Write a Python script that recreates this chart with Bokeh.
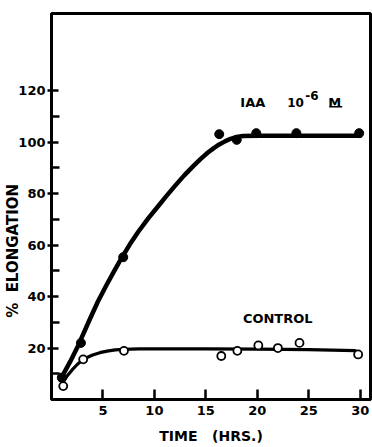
from bokeh.plotting import figure
from bokeh.models import FixedTicker, Label, Range1d
from bokeh.embed import file_html
from bokeh.resources import INLINE

# Data
iaa_t = [1.0, 2.86, 6.97, 16.3, 18.0, 19.9, 23.8, 29.9]
iaa_v = [8.5, 22.0, 55.3, 103.1, 100.9, 103.5, 103.5, 103.5]
ctl_t = [1.14, 3.08, 7.04, 16.5, 18.06, 20.1, 22.0, 24.1, 29.8]
ctl_v = [5.2, 15.6, 18.9, 16.9, 18.9, 21.0, 20.0, 22.0, 17.5]

# Smooth fitted curves (as drawn)
iaa_fit_t = [0.85, 1.8, 2.6, 3.7, 4.5, 5.36, 6.1, 6.8, 7.6, 8.4, 9.4, 10.4, 11.2,
             12.0, 12.9, 13.8, 14.5, 15.2, 15.8, 16.3, 16.9, 17.4, 18.0, 18.6,
             20.0, 25.0, 30.0]
iaa_fit_v = [7.6, 14.6, 21.0, 31.0, 38.0, 44.6, 50.0, 54.9, 60.2, 65.0, 70.4,
             75.3, 79.2, 83.0, 87.1, 90.8, 93.5, 96.0, 97.8, 99.1, 100.4, 101.3,
             102.0, 102.4, 102.5, 102.5, 102.5]
ctl_fit_t = [1.14, 1.5, 2.0, 2.5, 2.9, 3.5, 4.0, 4.7, 5.4, 6.2, 7.0, 8.5, 10.0,
             15.0, 20.0, 25.0, 29.5]
ctl_fit_v = [6.9, 9.0, 11.5, 13.6, 15.0, 16.4, 17.3, 18.2, 18.8, 19.3, 19.5,
             19.7, 19.7, 19.7, 19.6, 19.4, 19.0]

y_major = [20, 40, 60, 80, 100, 120]
y_minor = [10, 30, 50, 70, 90, 110]
x_major = [5, 10, 15, 20, 25, 30]

FONT = "DejaVu Sans"
NB = "\u00a0"

p = figure(width=372, height=447, output_backend="svg", toolbar_location=None,
           x_range=Range1d(0, 31), y_range=Range1d(0, 150),
           min_border_left=51, min_border_top=13, min_border_right=2,
           min_border_bottom=48)
p.background_fill_color = "white"
p.border_fill_color = "white"
p.outline_line_color = "black"
p.outline_line_width = 3
p.grid.visible = False

for ax in (p.xaxis[0], p.yaxis[0]):
    ax.axis_line_width = 3
    ax.axis_line_color = "black"
    ax.major_tick_in = 10
    ax.major_tick_out = 0
    ax.major_tick_line_width = 2.5
    ax.major_tick_line_color = "black"
    ax.minor_tick_in = 8
    ax.minor_tick_out = 0
    ax.minor_tick_line_width = 2.5
    ax.minor_tick_line_color = "black"
    ax.major_label_text_font = FONT
    ax.major_label_text_font_style = "bold"
    ax.major_label_text_font_size = "13px"
    ax.major_label_text_color = "black"
    ax.axis_label_text_font = FONT
    ax.axis_label_text_font_style = "bold"
    ax.axis_label_text_color = "black"

xa = p.xaxis[0]
xa.ticker = FixedTicker(ticks=x_major)
xa.major_label_standoff = 6
xa.axis_label = "TIME" + NB * 3 + "(HRS.)"
xa.axis_label_text_font_size = "14px"
xa.axis_label_standoff = 10

ya = p.yaxis[0]
ya.ticker = FixedTicker(ticks=y_major, minor_ticks=y_minor)
ya.major_tick_in = 7
ya.major_tick_out = 4
ya.major_label_standoff = 2
ya.axis_label = "%" + NB * 2 + "ELONGATION" + NB * 17
ya.axis_label_text_font_size = "15px"
ya.axis_label_standoff = -7

# curves
p.line(iaa_fit_t, iaa_fit_v, line_color="black", line_width=4.5, line_cap="round", line_join="round")
p.line(ctl_fit_t, ctl_fit_v, line_color="black", line_width=3.2, line_cap="round", line_join="round")

# points
p.scatter(iaa_t, iaa_v, marker="circle", size=9, fill_color="black", line_color="black")
p.scatter(ctl_t, ctl_v, marker="circle", size=8, fill_color="white", line_color="black", line_width=1.8)

def lab(x, y, text, size, **kw):
    l = Label(x=x, y=y, text=text, text_font=FONT, text_font_style="bold",
              text_font_size=size, text_color="black", **kw)
    p.add_layout(l)
    return l

# annotations
base = 115.5
lab(18.35, base, "IAA", "13px", text_baseline="alphabetic")
lab(22.9, base, "10", "12px", text_baseline="alphabetic")
lab(24.65, base + 2.8, "-6", "12px", text_baseline="alphabetic")
m_x = 26.9
lab(m_x, base, "M", "13px", text_baseline="alphabetic")
p.segment(x0=[m_x + 0.1], y0=[base - 1.7], x1=[m_x + 1.35], y1=[base - 1.7],
          line_color="black", line_width=1.5)

lab(18.6, 31.4, "CONTROL", "13px", text_baseline="alphabetic")

open("out.html", "w").write(file_html(p, INLINE))
